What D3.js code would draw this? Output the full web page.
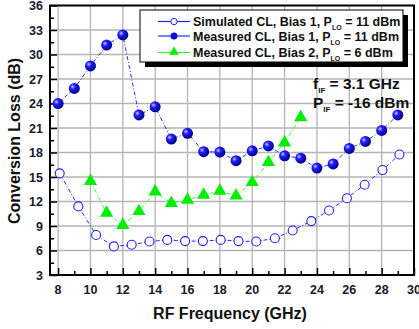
<!DOCTYPE html>
<html>
<head>
<meta charset="utf-8">
<script src="https://cdn.jsdelivr.net/npm/d3@7"></script>
<style>
  body { margin: 0; background: #fff; }
  text { font-family: "Liberation Sans", Arial, sans-serif; font-weight: bold; }
</style>
</head>
<body>
<div id="chart"></div>
<script>
// Simulated CL, Bias 1 (open circles)
const sim_freq = [8.1, 9.25, 10.35, 11.45, 12.55, 13.65, 14.75, 15.85, 16.95, 18.05, 19.15, 20.25, 21.4, 22.5, 23.65, 24.75, 25.85, 26.95, 28.05, 29.1];
const sim_cl = [15.45, 11.4, 7.9, 6.5, 6.7, 7.1, 7.3, 7.15, 7.15, 7.3, 7.15, 7.1, 7.5, 8.45, 9.6, 10.9, 12.4, 14.05, 15.85, 17.75];

// Measured CL, Bias 1 (filled circles)
const meas1_freq = [8, 9, 10, 11, 12, 13, 14, 15, 16, 17, 18, 19, 20, 21, 22, 23, 24, 25, 26, 27, 28, 29];
const meas1_cl = [24.0, 25.85, 28.6, 31.15, 32.4, 22.6, 23.6, 19.65, 20.35, 18.1, 18.05, 17.0, 18.2, 18.8, 17.6, 17.3, 16.1, 16.6, 18.5, 19.35, 20.7, 22.6];

// Measured CL, Bias 2 (triangles)
const meas2_freq = [10, 11, 12, 13, 14, 15, 16, 17, 18, 19, 20, 21, 22, 23];
const meas2_cl = [14.5, 10.6, 9.1, 10.8, 13.2, 11.8, 12.2, 12.8, 13.3, 12.7, 14.35, 16.8, 19.2, 22.3];

const x_ticks = [8, 10, 12, 14, 16, 18, 20, 22, 24, 26, 28, 30];
const y_ticks = [3, 6, 9, 12, 15, 18, 21, 24, 27, 30, 33, 36];

const width = 419, height = 329;
const plot = {left: 50, right: 414, top: 5.5, bottom: 275};

const svg = d3.select('#chart').append('svg')
    .attr('width', width)
    .attr('height', height);

const defs = svg.append('defs');
const grad = defs.append('radialGradient')
    .attr('id', 'ball')
    .attr('cx', '35%').attr('cy', '35%').attr('r', '65%');
grad.append('stop').attr('offset', '0%').attr('stop-color', '#c8c8ff');
grad.append('stop').attr('offset', '35%').attr('stop-color', '#2020ff');
grad.append('stop').attr('offset', '100%').attr('stop-color', '#00008a');

const x = d3.scaleLinear().domain([7.5, 30]).range([plot.left, plot.right]);
const y = d3.scaleLinear().domain([3, 36]).range([plot.bottom, plot.top]);

// Grid
svg.append('g')
    .selectAll('line')
    .data(x_ticks.filter(d => d < 30))
    .join('line')
    .attr('x1', d => x(d)).attr('x2', d => x(d))
    .attr('y1', plot.top).attr('y2', plot.bottom)
    .attr('stroke', '#b4b4b4').attr('stroke-width', 1.3);

svg.append('g')
    .selectAll('line')
    .data(y_ticks.filter(d => d > 3 && d < 36))
    .join('line')
    .attr('x1', plot.left).attr('x2', plot.right)
    .attr('y1', d => y(d)).attr('y2', d => y(d))
    .attr('stroke', '#b4b4b4').attr('stroke-width', 1.3);

// Axes with inward ticks
const x_axis = d3.axisBottom(x)
    .tickValues(d3.range(8, 30.5, 1))
    .tickSize(-6)
    .tickSizeOuter(0)
    .tickFormat('');
svg.append('g')
    .attr('transform', 'translate(0,' + plot.bottom + ')')
    .call(x_axis)
    .call(g => g.selectAll('.tick line')
        .attr('y2', d => (d % 2 === 0 ? -7 : -4))
        .attr('stroke-width', 1.5))
    .call(g => g.select('.domain').remove());

const y_axis = d3.axisLeft(y)
    .tickValues(d3.range(3, 36.1, 1.5))
    .tickSize(-6)
    .tickSizeOuter(0)
    .tickFormat('');
svg.append('g')
    .attr('transform', 'translate(' + plot.left + ',0)')
    .call(y_axis)
    .call(g => g.selectAll('.tick line')
        .attr('x2', d => (d % 3 === 0 ? 7 : 4))
        .attr('stroke-width', 1.5))
    .call(g => g.select('.domain').remove());

// Tick labels
svg.append('g')
    .selectAll('text')
    .data(x_ticks)
    .join('text')
    .attr('x', d => x(d))
    .attr('y', 294)
    .attr('text-anchor', 'middle')
    .attr('font-size', 12.5)
    .attr('fill', '#1a1a33')
    .text(d => d);

svg.append('g')
    .selectAll('text')
    .data(y_ticks)
    .join('text')
    .attr('x', 43)
    .attr('y', d => y(d) + 4.5)
    .attr('text-anchor', 'end')
    .attr('font-size', 12.5)
    .attr('fill', '#1a1a33')
    .text(d => d);

// Frame
svg.append('rect')
    .attr('x', plot.left).attr('y', plot.top)
    .attr('width', plot.right - plot.left)
    .attr('height', plot.bottom - plot.top)
    .attr('fill', 'none')
    .attr('stroke', '#000')
    .attr('stroke-width', 2);

// Axis titles
svg.append('text')
    .attr('x', 230).attr('y', 319)
    .attr('text-anchor', 'middle')
    .attr('font-size', 16)
    .attr('fill', '#111')
    .text('RF Frequency (GHz)');

svg.append('text')
    .attr('transform', 'translate(20,141) rotate(-90)')
    .attr('text-anchor', 'middle')
    .attr('font-size', 16)
    .attr('fill', '#111')
    .text('Conversion Loss (dB)');

// Series
const sim = sim_freq.map((f, i) => ({f: f, v: sim_cl[i]}));
const meas1 = meas1_freq.map((f, i) => ({f: f, v: meas1_cl[i]}));
const meas2 = meas2_freq.map((f, i) => ({f: f, v: meas2_cl[i]}));

const line = d3.line().x(d => x(d.f)).y(d => y(d.v));

svg.append('path').datum(sim)
    .attr('d', line).attr('fill', 'none')
    .attr('stroke', '#2a2aff').attr('stroke-width', 1)
    .attr('stroke-dasharray', '4,2,1,2');
svg.append('path').datum(meas1)
    .attr('d', line).attr('fill', 'none')
    .attr('stroke', '#2a2aff').attr('stroke-width', 1)
    .attr('stroke-dasharray', '4,2,1,2');
svg.append('path').datum(meas2)
    .attr('d', line).attr('fill', 'none')
    .attr('stroke', '#44ee44').attr('stroke-width', 1)
    .attr('stroke-dasharray', '4,2,1,2');

const tri = d3.symbol().type(d3.symbolTriangle).size(75);

svg.append('g').selectAll('path')
    .data(meas2).join('path')
    .attr('d', tri)
    .attr('transform', d => 'translate(' + x(d.f) + ',' + y(d.v) + ')')
    .attr('fill', '#00ee00');

svg.append('g').selectAll('circle')
    .data(sim).join('circle')
    .attr('cx', d => x(d.f)).attr('cy', d => y(d.v))
    .attr('r', 4.5)
    .attr('fill', '#fff')
    .attr('stroke', '#2020ff').attr('stroke-width', 1.1);

svg.append('g').selectAll('circle')
    .data(meas1).join('circle')
    .attr('cx', d => x(d.f)).attr('cy', d => y(d.v))
    .attr('r', 5.5)
    .attr('fill', 'url(#ball)');

// Legend
const legend = svg.append('g');
legend.append('rect')
    .attr('x', 145).attr('y', 15).attr('width', 263).attr('height', 52)
    .attr('fill', '#000');
legend.append('rect')
    .attr('x', 140).attr('y', 10).attr('width', 263).attr('height', 52)
    .attr('fill', '#fff').attr('stroke', '#000').attr('stroke-width', 1);

const legend_items = [
    {name: 'Simulated CL, Bias 1, P', sub: 'LO', tail: ' = 11 dBm', color: '#2020ff', marker: 'open'},
    {name: 'Measured CL, Bias 1, P', sub: 'LO', tail: ' = 11 dBm', color: '#2a2aff', marker: 'dot'},
    {name: 'Measured CL, Bias 2, P', sub: 'LO', tail: ' = 6 dBm', color: '#33ee33', marker: 'tri'}
];
const legend_y = [21.5, 36, 52.5];

legend_items.forEach((item, i) => {
    const ly = legend_y[i];
    legend.append('line')
        .attr('x1', 158).attr('x2', 190)
        .attr('y1', ly).attr('y2', ly)
        .attr('stroke', item.color).attr('stroke-width', 1.2);
    if (item.marker === 'open') {
        legend.append('circle').attr('cx', 174).attr('cy', ly).attr('r', 3.2)
            .attr('fill', '#fff').attr('stroke', item.color).attr('stroke-width', 1);
    } else if (item.marker === 'dot') {
        legend.append('circle').attr('cx', 174).attr('cy', ly).attr('r', 3.5)
            .attr('fill', '#1010dd');
    } else {
        legend.append('path')
            .attr('d', d3.symbol().type(d3.symbolTriangle).size(40))
            .attr('transform', 'translate(174,' + (ly - 0.5) + ')')
            .attr('fill', '#00ee00');
    }
    const t = legend.append('text')
        .attr('x', 193).attr('y', ly + 4.5)
        .attr('font-size', 12.5)
        .attr('fill', '#111');
    t.append('tspan').text(item.name);
    t.append('tspan').attr('font-size', 7).attr('dy', 4).text(item.sub);
    t.append('tspan').attr('dy', -4).text(item.tail);
});

// Annotation
const note1 = svg.append('text').attr('x', 313).attr('y', 89)
    .attr('font-size', 15.5).attr('fill', '#111');
note1.append('tspan').text('f');
note1.append('tspan').attr('font-size', 8).attr('dy', 4).text('IF');
note1.append('tspan').attr('dy', -4).text(' = 3.1 GHz');

const note2 = svg.append('text').attr('x', 313).attr('y', 108)
    .attr('font-size', 15.5).attr('fill', '#111');
note2.append('tspan').text('P');
note2.append('tspan').attr('font-size', 8).attr('dy', 4).text('IF');
note2.append('tspan').attr('dy', -4).text(' = -16 dBm');
</script>
</body>
</html>
